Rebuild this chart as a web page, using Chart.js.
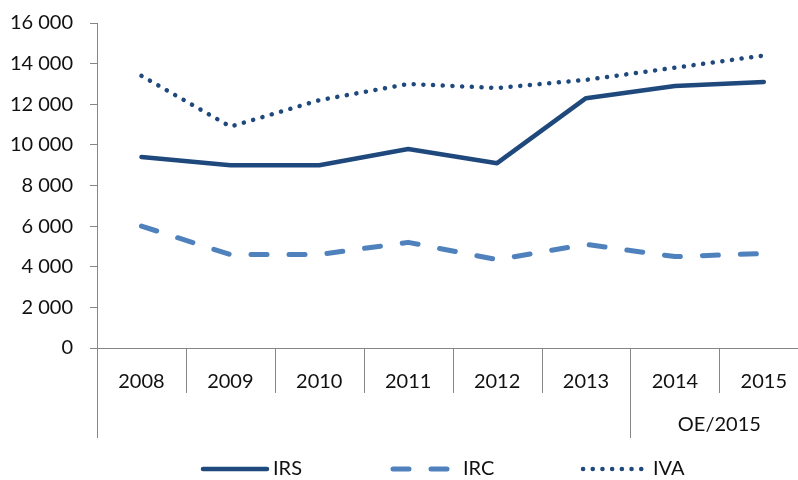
<!DOCTYPE html>
<html>
<head>
<meta charset="utf-8">
<script src="https://cdn.jsdelivr.net/npm/chart.js@4/dist/chart.umd.min.js"></script>
<style>
  html, body { margin: 0; padding: 0; background: #fff; overflow: hidden; }
  #wrap { width: 809px; height: 480px; }
</style>
</head>
<body>
<div id="wrap"><canvas id="myChart"></canvas></div>
<script>
// data
const years = ["2008", "2009", "2010", "2011", "2012", "2013", "2014", "2015"];
const irs = [9400, 9000, 9000, 9800, 9100, 12300, 12900, 13100];
const irc = [6000, 4600, 4600, 5200, 4350, 5100, 4500, 4650];
const iva = [13400, 10900, 12200, 13000, 12800, 13200, 13800, 14400];
const yMin = 0, yMax = 16000, yStep = 2000;
// second row of the category axis
const groupLabel = "OE/2015";
const groupFrom = 6; // starts at 2014

const axisColor = "#868686";
const fontFamily = "Lato, 'DejaVu Sans', sans-serif";
const fontSize = 20;

function spaced(v) {
  return String(v).replace(/\B(?=(\d{3})+(?!\d))/g, " ");
}

//draws the category separators, the second row label and the legend
const extras = {
  id: "extras",
  afterDraw(chart) {
    const ctx = chart.ctx;
    const x = chart.scales.x;
    const bottom = chart.chartArea.bottom;
    ctx.save();
    ctx.strokeStyle = axisColor;
    ctx.lineWidth = 1;
    for (let i = 0; i <= years.length; i++) {
      const px = Math.round(x.getPixelForValue(i - 0.5)) + 0.5;
      const long = i === 0 || i === groupFrom;
      ctx.beginPath();
      ctx.moveTo(px, bottom);
      ctx.lineTo(px, bottom + (long ? 90 : 45));
      ctx.stroke();
    }
    ctx.fillStyle = "#111";
    ctx.font = fontSize + "px " + fontFamily;
    ctx.textAlign = "center";
    ctx.textBaseline = "middle";
    const gx = (x.getPixelForValue(groupFrom - 0.5) + x.getPixelForValue(years.length - 0.5)) / 2;
    ctx.fillText(groupLabel, Math.min(gx, 722), bottom + 77);

    // legend
    const ly = 469;
    chart.data.datasets.forEach((ds, i) => {
      const x0 = 203 + i * 190;
      ctx.beginPath();
      ctx.strokeStyle = ds.borderColor;
      ctx.lineWidth = ds.borderWidth;
      ctx.lineCap = ds.borderCapStyle || "butt";
      ctx.setLineDash(ds.borderDash || []);
      ctx.moveTo(x0, ly);
      ctx.lineTo(x0 + 64, ly);
      ctx.stroke();
      ctx.setLineDash([]);
      ctx.fillStyle = "#111";
      ctx.textAlign = "left";
      ctx.fillText(ds.label, x0 + 70, ly);
    });
    ctx.restore();
  }
};

const chart = new Chart(document.getElementById("myChart").getContext("2d"), {
  type: "line",
  data: {
    labels: years,
    datasets: [
      {
        label: "IRS",
        data: irs,
        borderColor: "#1F497D",
        borderWidth: 4.5,
        borderCapStyle: "round",
        borderJoinStyle: "round",
        pointRadius: 0,
        tension: 0
      },
      {
        label: "IRC",
        data: irc,
        borderColor: "#4F81BD",
        borderWidth: 5,
        borderDash: [16, 22],
        borderCapStyle: "round",
        borderJoinStyle: "round",
        pointRadius: 0,
        tension: 0
      },
      {
        label: "IVA",
        data: iva,
        borderColor: "#1F497D",
        borderWidth: 4.5,
        borderDash: [0.1, 9.6],
        borderCapStyle: "round",
        borderJoinStyle: "round",
        pointRadius: 0,
        tension: 0
      }
    ]
  },
  options: {
    responsive: true,
    maintainAspectRatio: false,
    animation: false,
    layout: { padding: { top: 23, left: 0, right: 0, bottom: 0 } },
    plugins: {
      legend: { display: false },
      tooltip: { enabled: false }
    },
    scales: {
      x: {
        offset: true,
        grid: { display: false, drawTicks: false },
        border: { display: true, color: axisColor, width: 1 },
        ticks: {
          color: "#111",
          padding: 22,
          maxRotation: 0,
          font: { family: fontFamily, size: fontSize }
        },
        afterFit(scale) { scale.height = 132; }
      },
      y: {
        min: yMin,
        max: yMax,
        grid: { drawOnChartArea: false, color: axisColor, tickLength: 7 },
        border: { display: true, color: axisColor, width: 1 },
        ticks: {
          stepSize: yStep,
          color: "#111",
          padding: 17,
          font: { family: fontFamily, size: fontSize },
          callback: (v) => spaced(v)
        },
        afterFit(scale) {
          scale.width = 97;
          scale.paddingTop = 0;
          scale.paddingBottom = 0;
        }
      }
    }
  },
  plugins: [extras]
});
</script>
</body>
</html>
